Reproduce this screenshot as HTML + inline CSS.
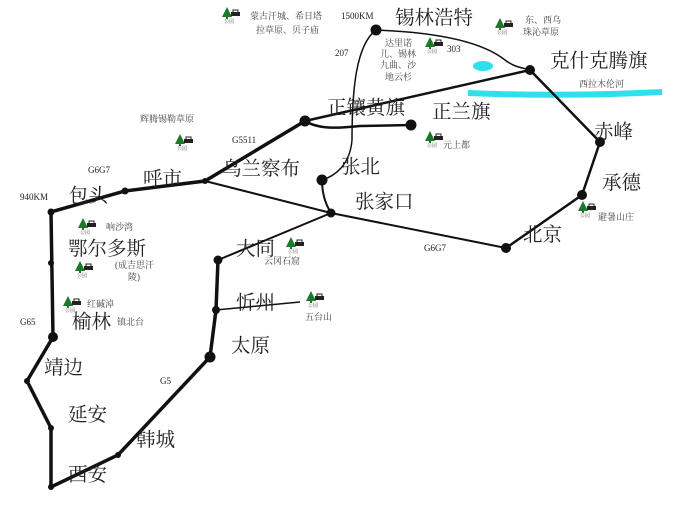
<!DOCTYPE html>
<html><head><meta charset="utf-8"><style>
html,body{margin:0;padding:0;background:#fff;}
svg{display:block;}
.c{font-family:"Liberation Serif","Noto Serif CJK SC",serif;font-size:19.5px;fill:#222;}
.s{font-family:"Liberation Serif","Noto Serif CJK SC",serif;font-size:9px;fill:#444;}
.e{font-family:"Liberation Serif",serif;font-size:9px;fill:#222;}
</style></head><body>
<svg width="685" height="513" viewBox="0 0 685 513" xmlns="http://www.w3.org/2000/svg">
<defs>
<g id="ic">
<polygon points="5,0 0,10 10,10" fill="#1a7a2a"/>
<rect x="4" y="9" width="2" height="3" fill="#1a7a2a"/>
<rect x="9" y="5" width="9" height="4" fill="#222"/>
<rect x="11" y="3" width="5" height="3" fill="none" stroke="#222" stroke-width="1"/>
<text x="2" y="16" font-size="5" fill="#555" font-family="Noto Serif CJK SC,serif">公园</text>
</g>
</defs>
<ellipse cx="483" cy="66" rx="10" ry="5" fill="#2ee0ee"/>
<path d="M468,93 Q560,97 662,92" stroke="#2ee0ee" stroke-width="6" fill="none"/>
<g fill="none" stroke="#111">
<path d="M205,181 L331,213 L506,248" stroke-width="2"/>
<path d="M331,213 L218,260" stroke-width="2"/>
<path d="M216,310 L300,302" stroke-width="1.5"/>
<path d="M376,30 C356,45 352,90 352,140 C350,165 335,176 322,180" stroke-width="1.5"/>
<path d="M322,180 C322,195 326,205 331,213" stroke-width="2"/>
<path d="M376,30 C430,32 480,40 505,60 C515,68 525,68 530,70" stroke-width="1.5"/>
<path d="M305,121 C320,130 340,128 360,126 L411,125" stroke-width="2.5"/>
<path d="M305,121 L530,70" stroke-width="2.5"/>
<path d="M530,70 L600,142 L582,195 L506,248" stroke-width="2.5"/>
<path d="M51,487 L51,428 L27,381 L53,337 L51,212 L125,191 L205,181 L305,121" stroke-width="3.5"/>
<path d="M218,260 L216,310 L210,357 L118,455 L51,487" stroke-width="3.5"/>
</g>
<g fill="#111">
<circle cx="51" cy="212" r="3.5"/><circle cx="125" cy="191" r="3.5"/><circle cx="205" cy="181" r="3"/>
<circle cx="305" cy="121" r="5.5"/><circle cx="376" cy="30" r="5.5"/><circle cx="530" cy="70" r="5"/>
<circle cx="411" cy="125" r="5.5"/><circle cx="322" cy="180" r="5.5"/><circle cx="331" cy="213" r="4.5"/>
<circle cx="218" cy="260" r="4.5"/><circle cx="216" cy="310" r="4"/><circle cx="210" cy="357" r="5.5"/>
<circle cx="118" cy="455" r="3"/><circle cx="51" cy="487" r="3"/><circle cx="51" cy="428" r="3"/>
<circle cx="27" cy="381" r="3"/><circle cx="53" cy="337" r="5"/><circle cx="51" cy="263" r="3"/>
<circle cx="506" cy="248" r="5"/><circle cx="582" cy="195" r="5"/><circle cx="600" cy="142" r="5"/>
</g>
<use href="#ic" x="222" y="7"/><use href="#ic" x="175" y="134"/><use href="#ic" x="78" y="218"/>
<use href="#ic" x="75" y="261"/><use href="#ic" x="63" y="296"/><use href="#ic" x="286" y="237"/>
<use href="#ic" x="306" y="291"/><use href="#ic" x="425" y="37"/><use href="#ic" x="495" y="18"/>
<use href="#ic" x="425" y="131"/><use href="#ic" x="578" y="201"/>
<g class="c">
<text x="395" y="24">锡林浩特</text>
<text x="550" y="67">克什克腾旗</text>
<text x="327" y="114">正镶黄旗</text>
<text x="432" y="118">正兰旗</text>
<text x="222" y="175">乌兰察布</text>
<text x="143" y="185">呼市</text>
<text x="69" y="202">包头</text>
<text x="341" y="173">张北</text>
<text x="355" y="208">张家口</text>
<text x="68" y="255">鄂尔多斯</text>
<text x="72" y="328">榆林</text>
<text x="44" y="374">靖边</text>
<text x="68" y="421">延安</text>
<text x="136" y="446">韩城</text>
<text x="68" y="481">西安</text>
<text x="236" y="255">大同</text>
<text x="236" y="309">忻州</text>
<text x="231" y="352">太原</text>
<text x="594" y="138">赤峰</text>
<text x="602" y="189">承德</text>
<text x="523" y="241">北京</text>
</g>
<g class="s">
<text x="250" y="19">蒙古汗城、希日塔</text>
<text x="256" y="33">拉草原、贝子庙</text>
<text x="140" y="122">辉腾锡勒草原</text>
<text x="385" y="46">达里诺</text>
<text x="380" y="57">儿、锡林</text>
<text x="380" y="68">九曲、沙</text>
<text x="385" y="80">地云杉</text>
<text x="525" y="23">东、西乌</text>
<text x="523" y="35">珠沁草原</text>
<text x="579" y="87">西拉木伦河</text>
<text x="443" y="148">元上都</text>
<text x="598" y="220">避暑山庄</text>
<text x="106" y="230">响沙湾</text>
<text x="115" y="268">(成吉思汗</text>
<text x="128" y="280">陵)</text>
<text x="87" y="307">红碱淖</text>
<text x="117" y="325">镇北台</text>
<text x="264" y="264">云冈石窟</text>
<text x="305" y="320">五台山</text>
</g>
<g class="e">
<text x="341" y="19">1500KM</text>
<text x="335" y="56">207</text>
<text x="447" y="52">303</text>
<text x="232" y="143">G5511</text>
<text x="88" y="173">G6G7</text>
<text x="20" y="200">940KM</text>
<text x="424" y="251">G6G7</text>
<text x="20" y="325">G65</text>
<text x="160" y="384">G5</text>
</g>
</svg>
</body></html>
